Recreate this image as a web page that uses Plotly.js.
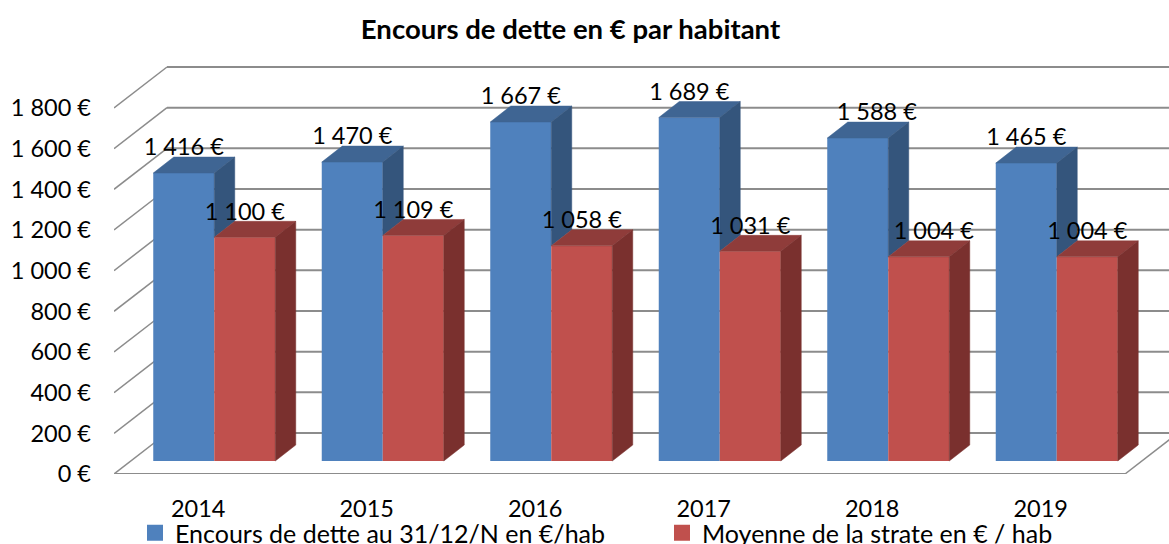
<!DOCTYPE html>
<html><head><meta charset="utf-8">
<script src="https://cdn.plot.ly/plotly-3.0.1.min.js"></script>
<style>html,body{margin:0;padding:0;background:#fff;overflow:hidden}</style>
</head><body><div id="chart" style="width:1169px;height:544px"></div>
<script>
const categories = ['2014','2015','2016','2017','2018','2019'];
const encours = [1416,1470,1667,1689,1588,1465];
const moyenne = [1100,1109,1058,1031,1004,1004];
const yTicks = [0,200,400,600,800,1000,1200,1400,1600,1800];
const yTickLabels = ['0 €','200 €','400 €','600 €','800 €','1 000 €','1 200 €','1 400 €','1 600 €','1 800 €'];
const encoursLabels = ['1 416 €','1 470 €','1 667 €','1 689 €','1 588 €','1 465 €'];
const moyenneLabels = ['1 100 €','1 109 €','1 058 €','1 031 €','1 004 €','1 004 €'];

const FONT = 'Lato, Carlito, Calibri, sans-serif';
const FS = 23.5;
const GRID = '#8c8c8c';
// scale factors: plot frame in px, depth of the 3D look
const pxPerCat = 168.5, pxPerVal = 40.67/200;
const xPx = p => p/pxPerCat, yPx = p => p/pxPerVal;
const wallDx = xPx(53), wallDy = yPx(41);      // floor depth
const barBase = yPx(13), barShift = xPx(16);   // bar front plane position on the floor
const barW = xPx(61), barDx = xPx(20.5), barDy = yPx(16); // bar width and depth
const labelUp = yPx(23.5);
const encoursLabelNudge = [0,0,0,0,19,0];   // hand-moved labels of the reference, px
const moyenneLabelNudge = [0,0,0,0,15,0];

const centers = categories.map((_,i)=>i+0.5+barShift);
const blueX = centers.map(c=>c-barW/2), redX = centers.map(c=>c+barW/2);

function poly(list){ // list of polygons -> x,y with null gaps
  const x=[],y=[];
  list.forEach(p=>{p.forEach(q=>{x.push(q[0]);y.push(q[1]);});x.push(p[0][0]);y.push(p[0][1]);x.push(null);y.push(null);});
  return {x,y};
}
function face(p,color){
  return Object.assign({type:'scatter',mode:'lines',fill:'toself',fillcolor:color,line:{width:0.5,color:color},hoverinfo:'skip',showlegend:false},poly(p));
}
const topFace = (xs,vals)=>vals.map((v,i)=>{const a=xs[i]-barW/2,b=xs[i]+barW/2,t=v+barBase;
  return [[a,t],[b,t],[b+barDx,t+barDy],[a+barDx,t+barDy]];});
const sideFace = (xs,vals,floors)=>vals.map((v,i)=>{const b=xs[i]+barW/2,t=v+barBase,f=floors[i]+barBase;
  return [[b,t],[b+barDx,t+barDy],[b+barDx,f+barDy],[b,f]];});

const traces = [
  {type:'bar',name:'Encours de dette au 31/12/N en €/hab',x:blueX,y:encours,base:barBase,width:barW,marker:{color:'#4F81BD',line:{width:0}},showlegend:false,hoverinfo:'skip'},
  {type:'bar',name:'Moyenne de la strate en € / hab',x:redX,y:moyenne,base:barBase,width:barW,marker:{color:'#C0504D',line:{width:0}},showlegend:false,hoverinfo:'skip'},
  face(topFace(blueX,encours),'#3F6593'),
  face(sideFace(blueX,encours,moyenne),'#34557C'),
  face(topFace(redX,moyenne),'#8F3C3A'),
  face(sideFace(redX,moyenne,moyenne.map(()=>0)),'#7A302E'),
  {type:'scatter',mode:'text',x:blueX.map((x,i)=>x+xPx(encoursLabelNudge[i])),y:encours.map(v=>v+barBase+labelUp),text:encoursLabels,textposition:'middle center',textfont:{family:FONT,size:FS,color:'#000'},hoverinfo:'skip',showlegend:false,cliponaxis:false},
  {type:'scatter',mode:'text',x:redX.map((x,i)=>x+xPx(moyenneLabelNudge[i])),y:moyenne.map(v=>v+barBase+labelUp),text:moyenneLabels,textposition:'middle center',textfont:{family:FONT,size:FS,color:'#000'},hoverinfo:'skip',showlegend:false,cliponaxis:false},
  {type:'scatter',mode:'markers',name:'Encours de dette au 31/12/N en €/hab',legendwidth:482,x:[null],y:[null],marker:{symbol:'square',size:16,color:'#4F81BD'}},
  {type:'scatter',mode:'markers',name:'Moyenne de la strate en € / hab',legendwidth:372,x:[null],y:[null],marker:{symbol:'square',size:16,color:'#C0504D'}}
];

const shapes = [];
yTicks.forEach(v=>{
  shapes.push({type:'line',layer:'below',xref:'x',yref:'y',x0:0,y0:v,x1:wallDx,y1:v+wallDy,line:{color:GRID,width:1.5}});
  shapes.push({type:'line',layer:'below',xref:'x',yref:'y',x0:wallDx,y0:v+wallDy,x1:categories.length+wallDx,y1:v+wallDy,line:{color:GRID,width:2}});
});
shapes.push({type:'line',layer:'below',xref:'x',yref:'y',x0:0,y0:0,x1:categories.length,y1:0,line:{color:GRID,width:2}});
shapes.push({type:'line',layer:'below',xref:'x',yref:'y',x0:categories.length,y0:0,x1:categories.length+wallDx,y1:wallDy,line:{color:GRID,width:1.5}});

const layout = {
  width:1169,height:544,paper_bgcolor:'#fff',plot_bgcolor:'rgba(0,0,0,0)',
  margin:{l:114,r:0,t:50,b:70,pad:0},
  barmode:'overlay',
  font:{family:FONT,size:FS,color:'#000'},
  title:{text:'<b>Encours de dette en € par habitant</b>',x:570.5/1169,xanchor:'center',xref:'container',y:1-29/544,yanchor:'middle',yref:'container',font:{family:FONT,size:27.5,color:'#000'}},
  xaxis:{range:[0,1055/pxPerCat],tickmode:'array',tickvals:categories.map((_,i)=>i+0.5),ticktext:categories,showgrid:false,zeroline:false,showline:false,ticks:'',ticklabelstandoff:18,tickfont:{family:FONT,size:FS,color:'#000'},automargin:false},
  yaxis:{range:[0,424/pxPerVal],tickmode:'array',tickvals:yTicks,ticktext:yTickLabels,showgrid:false,zeroline:false,showline:false,ticks:'',ticklabelstandoff:22,tickfont:{family:FONT,size:FS,color:'#000'},automargin:false},
  showlegend:true,
  legend:{orientation:'h',x:21/1055,xanchor:'left',y:11/544,yref:'container',yanchor:'middle',itemsizing:'trace',font:{family:FONT,size:25,color:'#000'},bgcolor:'rgba(0,0,0,0)',traceorder:'normal',tracegroupgap:0,itemclick:false,itemdoubleclick:false},
  shapes:shapes
};
Plotly.newPlot('chart',traces,layout,{displayModeBar:false,responsive:false});
</script></body></html>
